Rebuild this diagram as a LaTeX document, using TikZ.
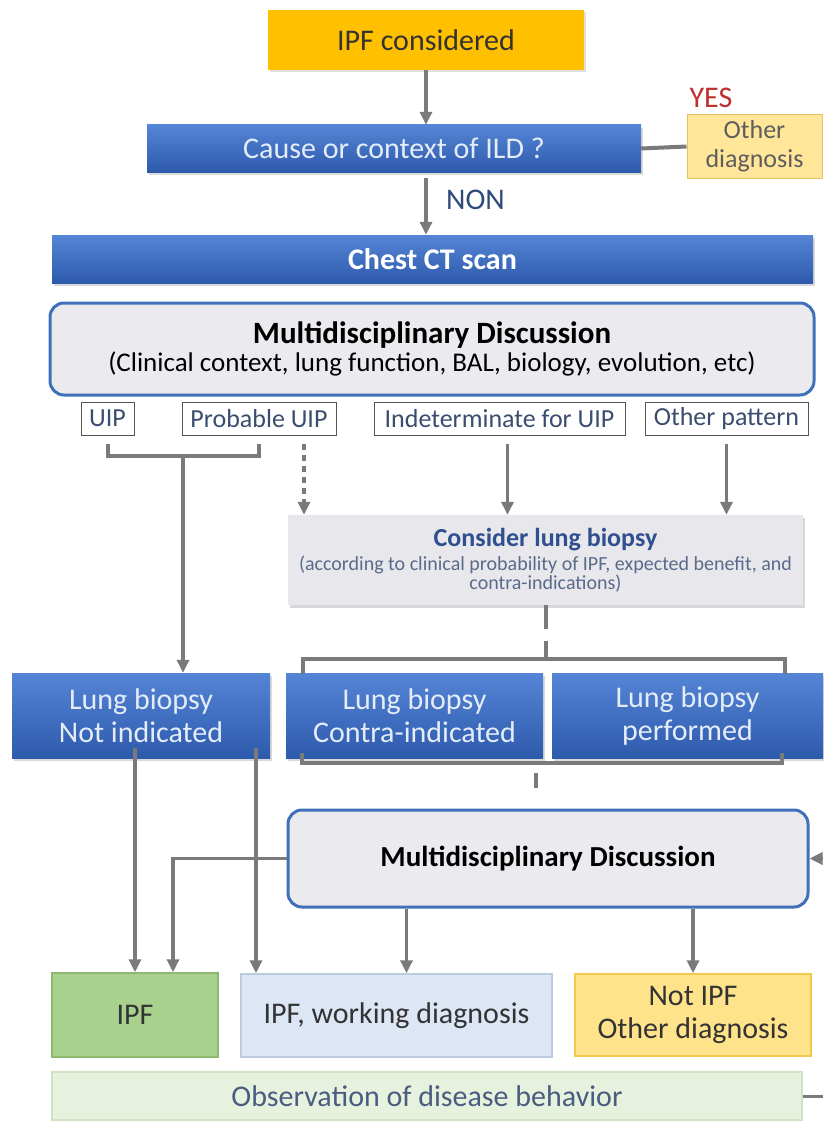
\documentclass[tikz,border=0pt]{standalone}
\usepackage{fontspec}
\setmainfont{Carlito}
\usetikzlibrary{arrows.meta,shadows}
\definecolor{ipfyellow}{HTML}{FFC000}
\definecolor{bluetop}{HTML}{5585D6}
\definecolor{bluebot}{HTML}{2E5AAC}
\definecolor{bluetext}{HTML}{E4ECF8}
\definecolor{yesred}{HTML}{BE2F2F}
\definecolor{nontext}{HTML}{2E4A7A}
\definecolor{paleyel}{HTML}{FFE699}
\definecolor{paleyelline}{HTML}{E2C25C}
\definecolor{greytext}{HTML}{5E5E5E}
\definecolor{mddblue}{HTML}{4070BA}
\definecolor{mddfill}{HTML}{EBEBEF}
\definecolor{patline}{HTML}{555555}
\definecolor{pattext}{HTML}{3A4D6E}
\definecolor{arrgray}{HTML}{7A7A7A}
\definecolor{consfill}{HTML}{E8E8EC}
\definecolor{constitle}{HTML}{2F4F8F}
\definecolor{constext}{HTML}{5A6A8A}
\definecolor{ipfgreen}{HTML}{A9D18E}
\definecolor{ipfgreenline}{HTML}{8DB870}
\definecolor{workfill}{HTML}{DCE6F4}
\definecolor{workline}{HTML}{BDCBE0}
\definecolor{notipffill}{HTML}{FFE38A}
\definecolor{notipfline}{HTML}{F2C94C}
\definecolor{obsfill}{HTML}{E6F1DE}
\definecolor{obsline}{HTML}{CFE3C2}
\definecolor{obstext}{HTML}{4A5D80}
\definecolor{darktext}{HTML}{333333}

\begin{document}
\begin{tikzpicture}[x=1pt, y=-1pt,
	box/.style={rectangle, inner sep=0pt, align=center},
	bigfont/.style={font=\fontsize{30}{33}\selectfont},
	bluebox/.style={box, bigfont, top color=bluetop, bottom color=bluebot, text=bluetext, drop shadow={shadow xshift=2pt, shadow yshift=-3pt, opacity=0.3}},
	mddbox/.style={box, rounded corners=14pt, draw=mddblue, line width=3pt, fill=mddfill, text=black},
	patbox/.style={box, draw=patline, line width=1pt, text=pattext, font=\fontsize{26}{30}\selectfont},
	endbox/.style={box, bigfont, line width=1.5pt, text=darktext},
	arr/.style={draw=arrgray, line width=3.5pt, -{Triangle[length=13pt,width=12pt]}},
	brk/.style={draw=arrgray, line width=4pt},
	]
	\useasboundingbox (0,0) rectangle (823,1121);
	\node[box, bigfont, fill=ipfyellow, text=darktext, minimum width=316pt, minimum height=60pt, drop shadow={shadow xshift=2pt, shadow yshift=-2pt, opacity=0.25}] (ipfc) at (426,40) {IPF considered};
	\node[bluebox, minimum width=494pt, minimum height=47pt] (cause) at (394,148.5) {Cause or context of ILD ?};
	\node[box, bigfont, text=yesred] (yes) at (711,98) {YES};
	\node[box, fill=paleyel, draw=paleyelline, line width=1pt, text=greytext, font=\fontsize{26}{29}\selectfont, minimum width=135pt, minimum height=63pt] (othdiag) at (754.5,146.5) {Other\\diagnosis};
	\node[box, bigfont, text=nontext, anchor=west] (non) at (446,200) {NON};
	\node[bluebox, font=\bfseries\fontsize{30}{33}\selectfont, text=white, minimum width=761pt, minimum height=48pt] (chest) at (432.5,259) {Chest CT scan};
	\node[mddbox, minimum width=764pt, minimum height=92pt] (mdd1) at (432,349) {{\bfseries\fontsize{31}{36}\selectfont Multidisciplinary Discussion}\\[3pt]{\fontsize{27}{30}\selectfont (Clinical context, lung function, BAL, biology, evolution, etc)}};
	\node[patbox, minimum width=53pt, minimum height=33pt] (uip) at (107.5,418.5) {UIP};
	\node[patbox, minimum width=154pt, minimum height=33pt] (puip) at (259,418.5) {Probable UIP};
	\node[patbox, minimum width=251pt, minimum height=33pt] (indet) at (499.5,418.5) {Indeterminate for UIP};
	\node[patbox, minimum width=163pt, minimum height=33pt] (othpat) at (726.5,418.5) {Other pattern};
	\node[box, fill=consfill, minimum width=515pt, minimum height=90pt, drop shadow={shadow xshift=2pt, shadow yshift=-3pt, opacity=0.3}] (consider) at (545.5,560) {{\bfseries\color{constitle}\fontsize{26}{30}\selectfont Consider lung biopsy}\\[4pt]{\color{constext}\fontsize{20}{23}\selectfont (according to clinical probability of IPF, expected benefit, and}\\{\color{constext}\fontsize{20}{23}\selectfont contra-indications)}};
	\node[bluebox, minimum width=258pt, minimum height=85pt] (notind) at (141,715.5) {Lung biopsy\\Not indicated};
	\node[bluebox, minimum width=257pt, minimum height=85pt] (contra) at (414.5,715.5) {Lung biopsy\\Contra-indicated};
	\node[bluebox, minimum width=271pt, minimum height=85pt] (perf) at (687.5,715.5) {Lung biopsy\\performed};
	\node[mddbox, minimum width=520pt, minimum height=97pt, font=\bfseries\fontsize{29}{34}\selectfont] (mdd2) at (548,858.5) {Multidisciplinary Discussion};
	\node[endbox, fill=ipfgreen, draw=ipfgreenline, minimum width=166pt, minimum height=84pt] (ipf) at (135,1015) {IPF};
	\node[endbox, fill=workfill, draw=workline, minimum width=311pt, minimum height=83pt] (work) at (396.5,1015.5) {IPF, working diagnosis};
	\node[endbox, fill=notipffill, draw=notipfline, minimum width=236pt, minimum height=82pt] (notipf) at (693,1015) {Not IPF\\Other diagnosis};
	\node[endbox, fill=obsfill, draw=obsline, text=obstext, minimum width=750pt, minimum height=48pt] (obs) at (427,1096) {Observation of disease behavior};
	\coordinate (loopin) at (823,858.5);
	\coordinate (loopout) at (823,1096);
	\coordinate (brkm) at (183,455);
	\coordinate (mddbend) at (173,858.5);
	\draw[arr] (ipfc.south) -- (ipfc.south |- cause.north);
	\draw[draw=arrgray, line width=4pt] (cause.east) -- (othdiag.west);
	\draw[arr] ([yshift=-6pt]cause.south -| ipfc.south) -- (ipfc.south |- chest.north);
	\draw[brk] ([yshift=-8pt]uip.south) -- ++(0,12) coordinate (brkl) -- (brkl -| puip.south) -- ([yshift=-8pt]puip.south);
	\draw[arr] (brkm) -- (brkm |- notind.north);
	\draw[arr, dash pattern=on 6pt off 5pt] ([xshift=45pt,yshift=-8pt]puip.south) -- ([xshift=45pt]puip.south |- consider.north);
	\draw[arr] ([xshift=8pt,yshift=-8pt]indet.south) -- ([xshift=8pt]indet.south |- consider.north);
	\draw[arr] ([yshift=-8pt]othpat.south) -- (othpat.south |- consider.north);
	\draw[brk, dash pattern=on 24pt off 12pt] (consider.south) -- ++(0,52);
	\draw[brk] ([xshift=17pt,yshift=-1pt]contra.north west) -- ++(0,-15) -| ([xshift=-38pt,yshift=-1pt]perf.north east);
	\draw[brk] ([xshift=16pt,yshift=5pt]contra.south west) -- ++(0,10) -| ([xshift=-41pt,yshift=5pt]perf.south east);
	\draw[brk] (536,773) -- (536,788);
	\draw[arr] ([yshift=10pt]notind.south -| ipf.north) -- (ipf.north);
	\draw[arr] ([xshift=115pt,yshift=10pt]notind.south) -- ([xshift=115pt]notind.south |- work.north);
	\draw[arr] (mdd2.west) -- (mddbend) -- (mddbend |- ipf.north);
	\draw[arr] ([xshift=10pt]work.north |- mdd2.south) -- ([xshift=10pt]work.north);
	\draw[arr] (notipf.north |- mdd2.south) -- (notipf.north);
	\draw[arr] (loopin) -- (mdd2.east);
	\draw[draw=arrgray, line width=3pt] (obs.east) -- (loopout);
\end{tikzpicture}
\end{document}
